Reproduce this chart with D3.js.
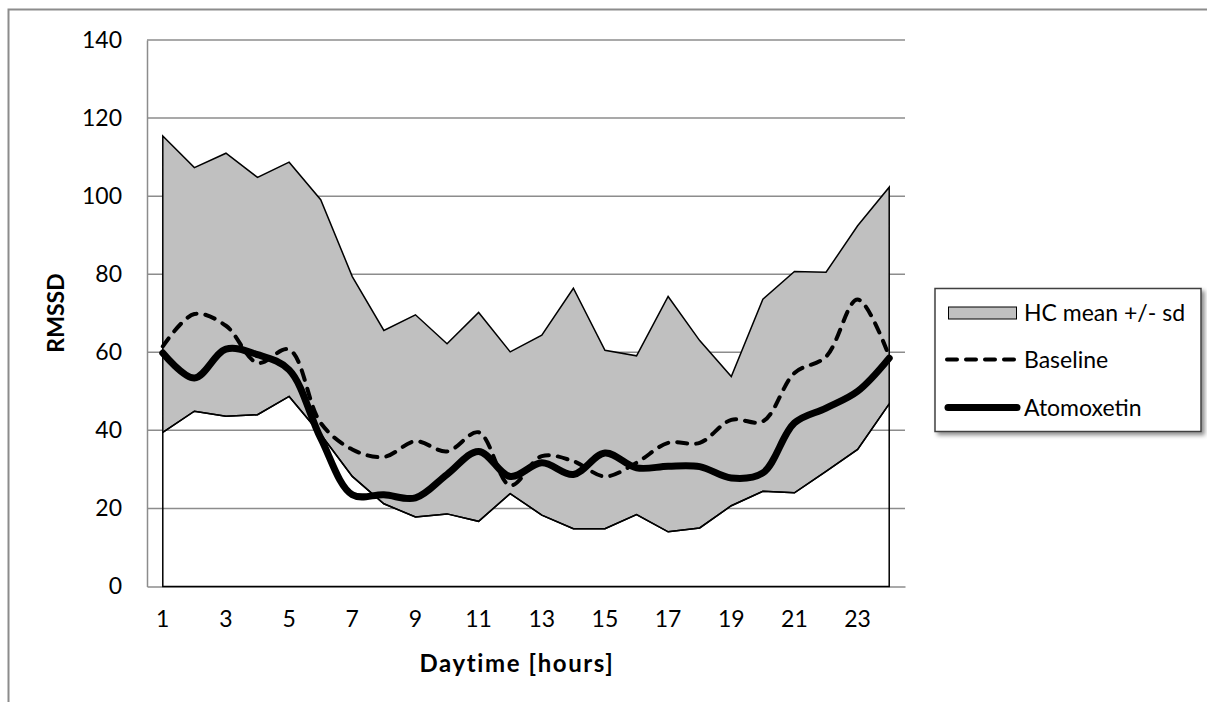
<!DOCTYPE html>
<html>
<head>
<meta charset="utf-8">
<script src="https://cdn.jsdelivr.net/npm/d3@7"></script>
<style>
  html, body { margin: 0; padding: 0; background: #fff; }
  svg { display: block; }
  text { font-family: Lato, "Open Sans", sans-serif; fill: #000; }
</style>
</head>
<body>
<svg id="chart" width="1207" height="702"></svg>
<script>
// ---- data ----
const hours = [1,2,3,4,5,6,7,8,9,10,11,12,13,14,15,16,17,18,19,20,21,22,23,24];
const hcLower = [39.5,44.9,43.6,44.0,48.7,39.0,28.2,21.2,17.8,18.6,16.7,23.8,18.3,14.8,14.8,18.4,14.0,15.0,20.7,24.4,24.0,29.5,35.1,46.8];
const hcUpper = [115.4,107.3,111.0,104.8,108.7,99.1,79.4,65.6,69.6,62.2,70.2,60.1,64.4,76.4,60.5,59.1,74.3,63.0,53.8,73.6,80.7,80.5,92.4,102.3];
const baseline = [61.5,69.8,66.8,57.3,60.7,41.9,35.1,33.2,37.2,34.6,39.5,25.9,33.4,32.1,28.2,31.7,36.8,36.8,42.7,42.3,54.7,58.9,73.5,58.9];
const atomoxetin = [59.8,53.4,60.8,59.4,55.5,38.0,23.5,23.5,22.7,28.7,34.6,28.2,31.7,28.7,34.2,30.4,30.8,30.7,27.8,29.1,41.9,45.7,50.0,58.5];
const yTicks = [0,20,40,60,80,100,120,140];
const xTickLabels = [1,3,5,7,9,11,13,15,17,19,21,23];
const legendLabels = ["HC mean +/- sd", "Baseline", "Atomoxetin"];

// ---- layout ----
const svg = d3.select("#chart");
const plot = { left: 147, right: 905, top: 40, bottom: 586.5 };

const x = d3.scaleBand().domain(hours).range([plot.left, plot.right]).padding(0);
const xc = d => x(d) + x.bandwidth() / 2;
const y = d3.scaleLinear().domain([0, 140]).range([plot.bottom, plot.top]);

// outer chart border (partially visible)
svg.append("path")
  .attr("d", `M8.5,702 L8.5,9.5 L1207,9.5`)
  .attr("fill", "none").attr("stroke", "#8c8c8c").attr("stroke-width", 2);

// gridlines
svg.append("g").selectAll("line").data(yTicks.filter(t => t > 0)).join("line")
  .attr("x1", plot.left).attr("x2", plot.right)
  .attr("y1", d => y(d)).attr("y2", d => y(d))
  .attr("stroke", "#8c8c8c").attr("stroke-width", 1.5);

// y axis
const yAxis = d3.axisLeft(y).tickValues(yTicks).tickSize(0).tickPadding(25);
const gy = svg.append("g").attr("transform", `translate(${plot.left},0)`).call(yAxis);
gy.select(".domain").attr("stroke", "#8c8c8c").attr("stroke-width", 1.5);
gy.selectAll("text").attr("font-size", 23).attr("font-family", "Lato").attr("fill", "#000");

// x axis
const xAxis = d3.axisBottom(x).tickValues(xTickLabels).tickSize(0).tickPadding(24);
const gx = svg.append("g").attr("transform", `translate(0,${plot.bottom})`).call(xAxis);
gx.select(".domain").attr("stroke", "#8c8c8c").attr("stroke-width", 1.5);
gx.selectAll("text").attr("font-size", 23).attr("font-family", "Lato").attr("fill", "#000");

const rows = hours.map((h, i) => ({ h, lo: hcLower[i], hi: hcUpper[i], b: baseline[i], a: atomoxetin[i] }));

// HC band (stacked area look)
const band = d3.area().x(d => xc(d.h)).y0(d => y(d.lo)).y1(d => y(d.hi));
svg.append("path").datum(rows).attr("d", band)
  .attr("fill", "#c0c0c0").attr("stroke", "#000").attr("stroke-width", 1.5)
  .attr("stroke-linejoin", "miter");

// lower series outline (white area from 0)
const lowArea = d3.area().x(d => xc(d.h)).y0(y(0)).y1(d => y(d.lo));
svg.append("path").datum(rows).attr("d", lowArea)
  .attr("fill", "none").attr("stroke", "#000").attr("stroke-width", 1.5);

// lines
const curve = d3.curveCatmullRom.alpha(0.5);
const lineB = d3.line().x(d => xc(d.h)).y(d => y(d.b)).curve(curve);
const lineA = d3.line().x(d => xc(d.h)).y(d => y(d.a)).curve(curve);

svg.append("path").datum(rows).attr("d", lineB)
  .attr("fill", "none").attr("stroke", "#000").attr("stroke-width", 4)
  .attr("stroke-dasharray", "10,9").attr("stroke-linecap", "round");
svg.append("path").datum(rows).attr("d", lineA)
  .attr("fill", "none").attr("stroke", "#000").attr("stroke-width", 7)
  .attr("stroke-linecap", "round").attr("stroke-linejoin", "round");

// axis titles
svg.append("text").attr("x", 517).attr("y", 672).attr("text-anchor", "middle")
  .attr("font-size", 24).attr("font-weight", "bold").attr("letter-spacing", 1.6).text("Daytime [hours]");
svg.append("text").attr("transform", "translate(64,313) rotate(-90)").attr("text-anchor", "middle")
  .attr("font-size", 23).attr("font-weight", "bold").text("RMSSD");

// legend
const defs = svg.append("defs");
const f = defs.append("filter").attr("id", "shadow").attr("x", "-10%").attr("y", "-10%").attr("width", "130%").attr("height", "130%");
f.append("feDropShadow").attr("dx", 3).attr("dy", 3).attr("stdDeviation", 2).attr("flood-color", "#000").attr("flood-opacity", 0.45);

const lg = svg.append("g");
lg.append("rect").attr("x", 935).attr("y", 288.5).attr("width", 266).attr("height", 143)
  .attr("fill", "#fff").attr("stroke", "#404040").attr("stroke-width", 1.5).attr("filter", "url(#shadow)");
const rowY = [313, 359.5, 407.5];
lg.append("rect").attr("x", 948.5).attr("y", 307).attr("width", 68).attr("height", 12)
  .attr("fill", "#c0c0c0").attr("stroke", "#000").attr("stroke-width", 1);
lg.append("line").attr("x1", 947).attr("x2", 1017).attr("y1", rowY[1]).attr("y2", rowY[1])
  .attr("stroke", "#000").attr("stroke-width", 4).attr("stroke-dasharray", "10,9").attr("stroke-linecap", "round");
lg.append("line").attr("x1", 948).attr("x2", 1017).attr("y1", rowY[2]).attr("y2", rowY[2])
  .attr("stroke", "#000").attr("stroke-width", 7).attr("stroke-linecap", "round");
lg.selectAll("text.lab").data(legendLabels).join("text").attr("class", "lab")
  .attr("x", 1024).attr("y", (d, i) => rowY[i]).attr("dy", "0.36em")
  .attr("font-size", 23).text(d => d);
</script>
</body>
</html>
